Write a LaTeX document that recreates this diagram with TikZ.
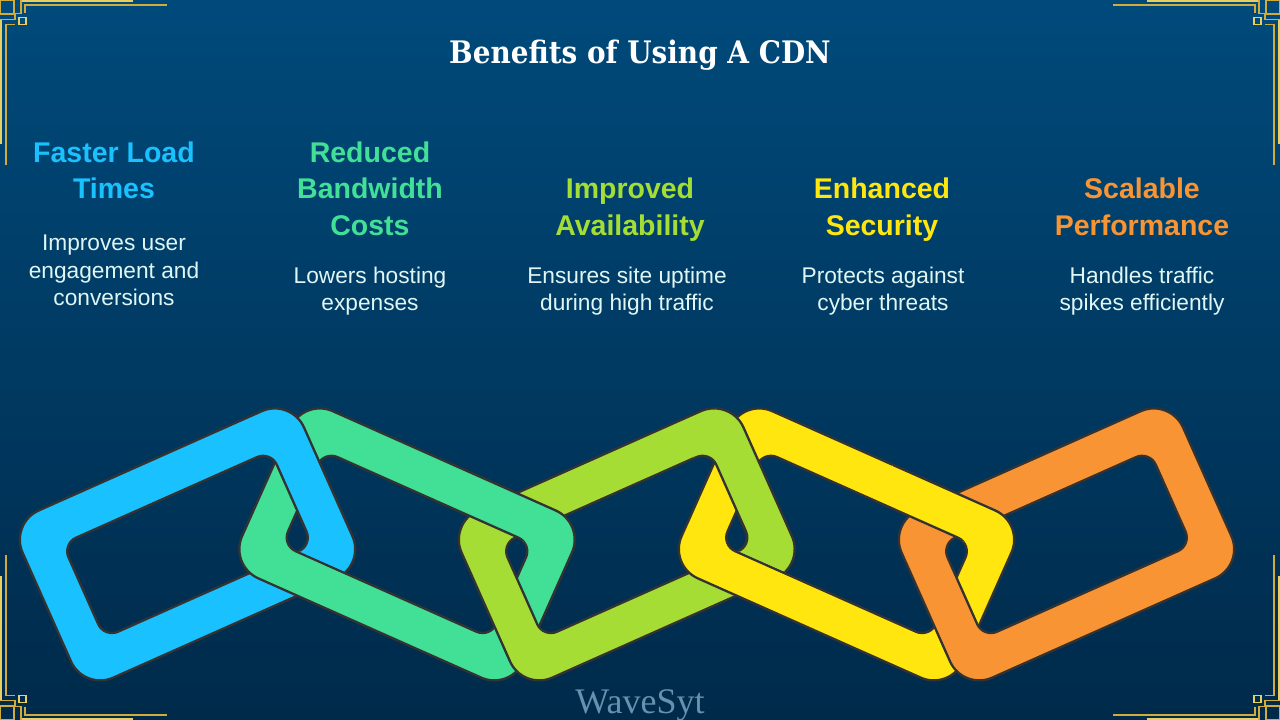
\documentclass[tikz,border=0pt]{standalone}
\usepackage{fontspec}
\setmainfont{Liberation Sans}
\newfontfamily\titlefont{DejaVu Serif Condensed}
\newfontfamily\markfont{Liberation Serif}
\definecolor{bgtop}{HTML}{004A7B}
\definecolor{bgbot}{HTML}{002A4A}
\definecolor{cblue}{HTML}{1AC1FF}
\definecolor{cgreen}{HTML}{42E097}
\definecolor{clime}{HTML}{A5DD35}
\definecolor{cyellow}{HTML}{FFE60F}
\definecolor{corange}{HTML}{F89433}
\definecolor{edgec}{HTML}{333333}
\definecolor{goldA}{HTML}{E8D060}
\definecolor{goldB}{HTML}{D2AC3A}
\definecolor{bodyc}{HTML}{E0F6F4}
\tikzset{
  linkshape/.style={draw=edgec,line width=2.3pt,even odd rule,line join=round},
  head/.style={font=\fontsize{28.5}{36.6}\selectfont\bfseries,align=center,inner sep=0pt,anchor=north},
  bodytext/.style={font=\fontsize{22.7}{27.4}\selectfont,text=bodyc,align=center,inner sep=0pt,anchor=north},
  goldthin/.style={draw=goldB,line width=1.5pt},
  goldthick/.style={draw=goldA,line width=2.2pt}
}
\newcommand\ringpath[1]{\path[linkshape,fill=#1,rounded corners=32pt] (-154,-91.5) rectangle (154,91.5) [rounded corners=15pt] (-114,-51.5) rectangle (114,51.5);}
\newcommand\placed[3]{\begin{scope}[shift={(#1,544.4)},rotate=#2]\ringpath{#3}\end{scope}}
% upper link redrawn above the inner bottom edge of the even link to its right
\newcommand\overlapA[2]{\begin{scope}[shift={(#1,544.4)},rotate=-24]
  \clip (-175,-125) rectangle (-10,50.0);
  \begin{scope}[rotate=24,shift={(-219.5,0)},rotate=24]\ringpath{#2}\end{scope}
\end{scope}}
% even link redrawn above its own inner top edge, over the link to its right
\newcommand\overlapB[2]{\begin{scope}[shift={(#1,544.4)},rotate=-24]
  \clip (10,-125) rectangle (175,-50.2);
  \ringpath{#2}
\end{scope}}
\newcommand\ornament{%
  \draw[goldthick] (1,20) -- (1,144);
  \draw[goldthick] (21,1) -- (133,1);
  \draw[goldthin] (6,165) -- (6,24.5) -- (15,24.5);
  \draw[goldthin] (25,13) -- (25,5) -- (167,5);
  \draw[goldthin] (0.5,0.5) rectangle (14,14);
  \draw[goldthin] (0,19.5) -- (15,19.5) -- (15,14);
  \draw[goldthin] (21,0) -- (21,13.5) -- (15,13.5);
  \draw[draw=goldA,line width=1.6pt] (18.8,17.5) rectangle (25.8,24.5);
}
\begin{document}
\begin{tikzpicture}[x=1pt,y=-1pt]
\useasboundingbox (0,0) rectangle (1280,720);
\shade[top color=bgtop,bottom color=bgbot] (0,0) rectangle (1280,720);
\begin{scope}\ornament\end{scope}
\begin{scope}[shift={(1280,0)},xscale=-1]\ornament\end{scope}
\begin{scope}[shift={(0,720)},yscale=-1]\ornament\end{scope}
\begin{scope}[shift={(1280,720)},xscale=-1,yscale=-1]\ornament\end{scope}

\node[text=white,inner sep=0pt] (title) at (640,55) {\titlefont\fontsize{31}{36}\selectfont\bfseries Benefits of Using A CDN};

\node[head,text=cblue] (h1) at (114,141.5) {Faster Load\\Times};
\node[bodytext] (b1) at (114,235) {Improves user\\engagement and\\conversions};
\node[head,text=cgreen] (h2) at (370,141.5) {Reduced\\Bandwidth\\Costs};
\node[bodytext] (b2) at (370,266.5) {Lowers hosting\\expenses};
\node[head,text=clime] (h3) at (630,178) {Improved\\Availability};
\node[bodytext] (b3) at (627,266.5) {Ensures site uptime\\during high traffic};
\node[head,text=cyellow] (h4) at (882,178) {Enhanced\\Security};
\node[bodytext] (b4) at (883,266.5) {Protects against\\cyber threats};
\node[head,text=corange] (h5) at (1142,178) {Scalable\\Performance};
\node[bodytext] (b5) at (1142,266.5) {Handles traffic\\spikes efficiently};

\placed{187.5}{24}{cblue}
\placed{407}{-24}{cgreen}
\overlapA{407}{cblue}
\placed{626.5}{24}{clime}
\overlapB{407}{cgreen}
\placed{846.5}{-24}{cyellow}
\overlapA{846.5}{clime}
\placed{1066.5}{24}{corange}
\overlapB{846.5}{cyellow}

\node[text=white!40!bgtop,inner sep=0pt] (mark) at (640,705.5) {\markfont\fontsize{36}{40}\selectfont WaveSyt};
\end{tikzpicture}
\end{document}
